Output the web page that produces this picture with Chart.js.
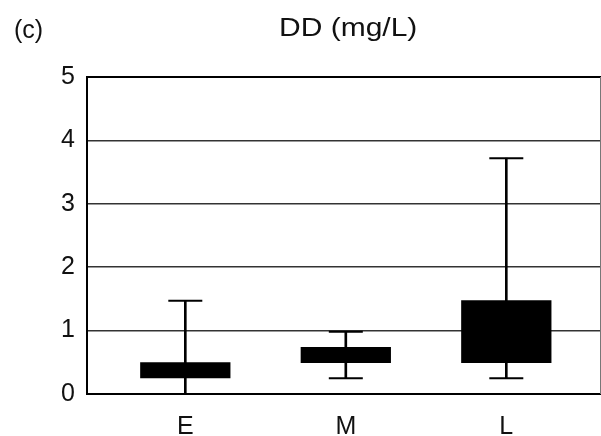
<!DOCTYPE html>
<html>
<head>
<meta charset="utf-8">
<script src="https://cdn.jsdelivr.net/npm/chart.js@4/dist/chart.umd.min.js"></script>
<style>
  html, body { margin: 0; padding: 0; background: #fff; }
  #wrap { position: relative; width: 601px; height: 436px; overflow: hidden; }
  #c { position: absolute; left: 0; top: 0; }
  .lbl { position: absolute; font-family: "Liberation Sans", Arial, sans-serif; font-size: 25px; line-height: 25px; color: #111; white-space: nowrap; }
  #panel { left: 14px; top: 17px; }
  #title { left: 279px; top: 15px; transform: scaleX(1.2); transform-origin: left center; }
</style>
</head>
<body>
<div id="wrap">
  <canvas id="c" width="601" height="436"></canvas>
  <div class="lbl" id="panel">(c)</div>
  <div class="lbl" id="title">DD (mg/L)</div>
</div>
<script>
// ---- data ----
const categories = ['E', 'M', 'L'];
const whiskerMin = [0, 0.25, 0.25];
const boxLow     = [0.25, 0.49, 0.49];
const boxHigh    = [0.50, 0.74, 1.48];
const whiskerMax = [1.47, 0.98, 3.72];
const yTicks     = [0, 1, 2, 3, 4, 5];

const xs = categories.map((c, i) => i + 1);
const boxData = xs.map((x, i) => ({ x: x, y: [boxLow[i], boxHigh[i]] }));
const whiskerData = xs.map((x, i) => ({ x: x, y: [whiskerMin[i], whiskerMax[i]] }));
const capData = [];
xs.forEach((x, i) => {
  capData.push({ x: x, y: whiskerMax[i] });
  if (whiskerMin[i] > 0) capData.push({ x: x, y: whiskerMin[i] });
});

const FONT = { family: "'Liberation Sans', Arial, sans-serif", size: 25 };

const rightBorder = {
  id: 'rightBorder',
  afterDatasetsDraw(chart) {
    const a = chart.chartArea, ctx = chart.ctx;
    ctx.save();
    ctx.strokeStyle = '#777';
    ctx.lineWidth = 1;
    ctx.beginPath();
    ctx.moveTo(a.right - 0.5, a.top);
    ctx.lineTo(a.right - 0.5, a.bottom);
    ctx.stroke();
    ctx.restore();
  }
};

new Chart(document.getElementById('c'), {
  type: 'bar',
  data: {
    datasets: [
      {
        type: 'bar',
        data: boxData,
        backgroundColor: '#000',
        borderWidth: 0,
        grouped: false,
        barPercentage: 0.5625,
        categoryPercentage: 1
      },
      {
        type: 'bar',
        data: whiskerData,
        backgroundColor: '#000',
        borderWidth: 0,
        grouped: false,
        barThickness: 2
      },
      {
        type: 'scatter',
        data: capData,
        pointStyle: 'line',
        pointRadius: 17,
        pointHoverRadius: 17,
        borderColor: '#000',
        borderWidth: 2,
        showLine: false
      }
    ]
  },
  plugins: [rightBorder],
  options: {
    responsive: false,
    animation: false,
    events: [],
    layout: { autoPadding: false, padding: { top: 77, right: 0, bottom: 0, left: 0 } },
    plugins: { legend: { display: false }, tooltip: { enabled: false }, title: { display: false } },
    scales: {
      x: {
        type: 'linear',
        min: 0.3875,
        max: 3.59,
        offset: false,
        afterBuildTicks: (axis) => { axis.ticks = xs.map(v => ({ value: v })); },
        afterFit: (axis) => { axis.height = 42; },
        ticks: {
          callback: (v) => categories[v - 1] || '',
          color: '#111',
          font: FONT,
          padding: 18,
          autoSkip: false,
          maxRotation: 0
        },
        grid: { display: false, drawTicks: false },
        border: { display: true, color: '#000', width: 2 }
      },
      y: {
        type: 'linear',
        min: 0,
        max: 5,
        afterBuildTicks: (axis) => { axis.ticks = yTicks.map(v => ({ value: v })); },
        afterFit: (axis) => { axis.width = 87; },
        ticks: { color: '#111', font: FONT, padding: 12 },
        grid: {
          drawTicks: false,
          color: (ctx) => (ctx.tick && (ctx.tick.value === 5 || ctx.tick.value === 0)) ? '#000' : '#333',
          lineWidth: (ctx) => (ctx.tick && (ctx.tick.value === 5 || ctx.tick.value === 0)) ? 2 : 1.5
        },
        border: { display: true, color: '#000', width: 2 }
      }
    }
  }
});
</script>
</body>
</html>
